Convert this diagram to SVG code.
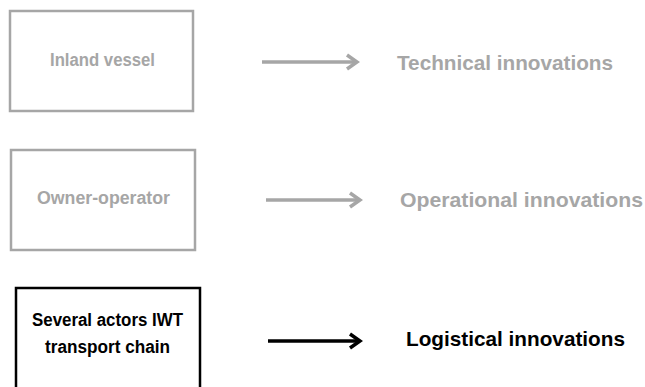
<svg xmlns="http://www.w3.org/2000/svg" width="645" height="387" viewBox="0 0 645 387">
<style>
.box{fill:#fff;stroke-width:2.5}
.g{stroke:#a6a6a6}
.k{stroke:#000}
.t{font-family:"Liberation Sans",Arial,sans-serif;font-weight:bold}
.s{font-size:18px}
.b{font-size:20.5px}
.tg{fill:#a6a6a6}
.tk{fill:#000}
.c{stroke-width:3.5;fill:none}
</style>
<defs>
<marker id="ag" markerWidth="16" markerHeight="18" refX="13" refY="9" orient="auto" markerUnits="userSpaceOnUse" viewBox="0 0 16 18"><path d="M3,2 L13,9 L3,16" fill="none" stroke="#a6a6a6" stroke-width="3.5"/></marker>
<marker id="ak" markerWidth="16" markerHeight="18" refX="13" refY="9" orient="auto" markerUnits="userSpaceOnUse" viewBox="0 0 16 18"><path d="M3,2 L13,9 L3,16" fill="none" stroke="#000" stroke-width="3.5"/></marker>
</defs>
<g id="n1"><rect class="box g" x="10" y="11" width="183" height="100"/><text class="t s tg" x="50" y="66" textLength="105" lengthAdjust="spacingAndGlyphs">Inland vessel</text></g>
<g id="n2"><rect class="box g" x="11" y="150" width="184" height="100"/><text class="t s tg" x="37" y="204" textLength="133" lengthAdjust="spacingAndGlyphs">Owner-operator</text></g>
<g id="n3"><rect class="box k" x="16" y="288" width="184" height="110"/><text class="t s tk" x="32" y="326" textLength="151" lengthAdjust="spacingAndGlyphs">Several actors IWT</text><text class="t s tk" x="45" y="353" textLength="125" lengthAdjust="spacingAndGlyphs">transport chain</text></g>
<g id="l1"><text class="t b tg" x="397" y="70" textLength="216" lengthAdjust="spacingAndGlyphs">Technical innovations</text></g>
<g id="l2"><text class="t b tg" x="400" y="207" textLength="243" lengthAdjust="spacingAndGlyphs">Operational innovations</text></g>
<g id="l3"><text class="t b tk" x="406" y="346" textLength="219" lengthAdjust="spacingAndGlyphs">Logistical innovations</text></g>
<g id="connectors">
<line class="c g" x1="262" y1="62" x2="357" y2="62" marker-end="url(#ag)"/>
<line class="c g" x1="266" y1="200" x2="360" y2="200" marker-end="url(#ag)"/>
<line class="c k" x1="268" y1="341" x2="360" y2="341" marker-end="url(#ak)"/>
</g>
</svg>
